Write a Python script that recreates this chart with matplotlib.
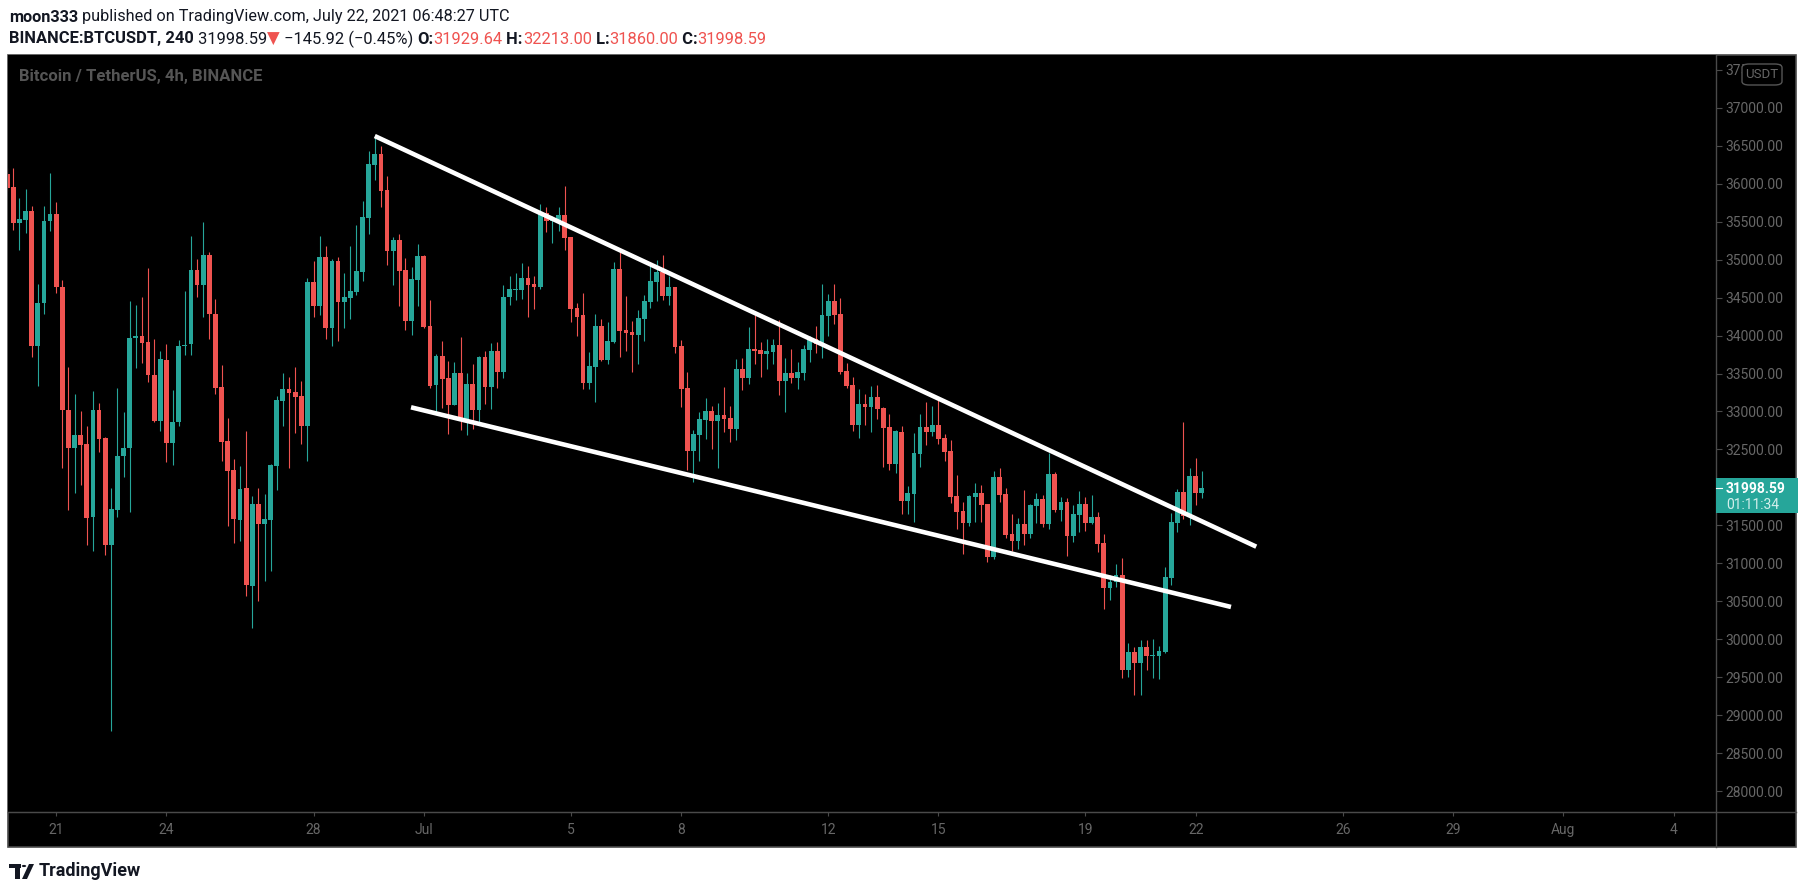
import numpy as np
import pandas as pd
import matplotlib
matplotlib.use("Agg")
import matplotlib.pyplot as plt
import matplotlib.dates as mdates
from matplotlib.patches import Rectangle, FancyBboxPatch, Polygon, Circle
from matplotlib.lines import Line2D

W, H = 1805, 894
UP = '#26a69a'
DOWN = '#ef5350'
TXT = '#676767'
EDGE = '#4a4a4a'
FONT = ['Roboto', 'DejaVu Sans']

# BINANCE:BTCUSDT 4h candles, first bar 2021-06-19 16:00 UTC
first_bar = '2021-06-19 16:00'
opens = [36121, 35957, 35487, 35521, 35640, 33866, 34426, 35506, 35600, 34644,
         33023, 32523, 32691, 32572, 31611, 33018, 32647, 31239, 31700, 32414,
         32518, 33965, 33995, 33915, 33484, 32880, 33678, 32587, 32860, 33856,
         33886, 34857, 34659, 35060, 34283, 33322, 32607, 32229, 31575, 31992,
         30706, 31782, 31523, 31575, 32286, 33142, 33296, 33256, 33208, 32813,
         34705, 34393, 35034, 34099, 34981, 34441, 34498, 34573, 34836, 35547,
         36245, 36390, 35916, 35117, 35258, 34863, 34191, 34731, 35047, 34126,
         33349, 33731, 33441, 33085, 33507, 32901, 33362, 33020, 33717, 33322,
         33796, 33520, 34508, 34600, 34600, 34758, 34679, 34639, 35613, 35508,
         35508, 35587, 35298, 34363, 34270, 33375, 33586, 34126, 33678, 33915,
         34876, 34073, 34047, 34007, 34218, 34442, 34705, 34837, 34521, 34639,
         33862, 33309, 32480, 32690, 32888, 33006, 32875, 32954, 32914, 32769,
         33560, 33441, 33823, 33810, 33757, 33783, 33875, 33402, 33507, 33441,
         33507, 33810, 33955, 33889, 34258, 34455, 34284, 33533, 33349, 32822,
         33099, 33059, 33191, 33046, 32796, 32309, 32730, 31822, 31914, 32441,
         32796, 32730, 32822, 32651, 32480, 31888, 31690, 31532, 31875, 31927,
         31782, 31084, 32138, 31914, 31387, 31295, 31519, 31387, 31756, 31848,
         31519, 32177, 31703, 31809, 31361, 31637, 31782, 31532, 31611, 31269,
         30676, 30755, 30847, 29597, 29834, 29689, 29900, 29781, 29781, 29834,
         30808, 31532, 31940, 31624, 32151, 31929.64]
highs = [36200, 36205, 35809, 35928, 35700, 34679, 35700, 36136, 35759, 34728,
         33583, 33232, 33004, 32805, 33271, 33113, 32662, 31993, 33306, 32994,
         34455, 34401, 34505, 34887, 33955, 33796, 33886, 33281, 33940, 34585,
         35308, 35006, 35501, 35095, 34481, 33612, 32914, 32374, 32282, 32743,
         31887, 31992, 31913, 32308, 33208, 33506, 33454, 33586, 33405, 34757,
         34981, 35310, 35179, 35008, 35034, 34823, 35179, 35455, 35771, 36429,
         36618, 36495, 36100, 35297, 35337, 35021, 34902, 35205, 35060, 34468,
         33757, 33928, 33665, 33652, 33981, 33507, 33625, 33731, 33796, 33902,
         33915, 34665, 34784, 34823, 34955, 34916, 34784, 35732, 35693, 35574,
         35693, 35969, 35298, 34428, 34560, 33783, 34284, 34218, 34178, 34968,
         35126, 34521, 34191, 34336, 34534, 34929, 34995, 35060, 34784, 34639,
         33941, 33520, 32756, 32993, 33178, 33072, 33112, 33322, 33072, 33691,
         33704, 34112, 34270, 33915, 33954, 33954, 34205, 33704, 33823, 33652,
         33875, 33994, 34126, 34679, 34547, 34679, 34495, 33639, 33454, 33296,
         33231, 33336, 33349, 33059, 32967, 32757, 32809, 32019, 32717, 32967,
         33125, 33073, 33191, 32704, 32625, 32164, 31809, 31901, 32059, 32032,
         31782, 32217, 32256, 31993, 31651, 31598, 31967, 31782, 31927, 31901,
         32454, 32204, 31875, 31861, 31769, 31954, 31875, 31901, 31677, 31387,
         30847, 30992, 31071, 29952, 29900, 29992, 29992, 30005, 29913, 30953,
         31664, 31980, 32862, 32256, 32388, 32213.00]
lows = [35900, 35392, 35120, 35353, 33717, 33341, 34287, 35382, 34560, 32255,
        31700, 31923, 32032, 31239, 31160, 32463, 31110, 28796, 31611, 32141,
        31675, 33579, 33638, 33390, 32865, 32746, 32339, 32290, 32810, 33742,
        33742, 34510, 34248, 33959, 33234, 32348, 31492, 31272, 31299, 30575,
        30153, 30509, 30772, 30904, 31966, 32813, 32260, 32721, 32572, 32352,
        34248, 34270, 33959, 33866, 33932, 34099, 34222, 34538, 34722, 35341,
        36048, 35692, 34928, 34665, 34389, 34073, 34007, 34393, 34095, 33314,
        32998, 33050, 32703, 33080, 32756, 32690, 32769, 32866, 33099, 33033,
        33309, 33441, 34402, 34468, 34481, 34244, 34349, 34613, 35363, 35219,
        35376, 35126, 34178, 33994, 33296, 33296, 33125, 33665, 33625, 33902,
        33718, 33796, 33520, 33625, 33928, 34363, 34455, 34468, 34402, 33770,
        33059, 32230, 32072, 32348, 32638, 32506, 32256, 32730, 32598, 32625,
        33283, 33362, 33625, 33454, 33560, 33625, 33217, 32993, 33375, 33296,
        33415, 33652, 33770, 33705, 33994, 34152, 33500, 33310, 32743, 32651,
        32822, 32730, 32901, 32269, 32230, 32190, 31651, 31651, 31545, 32269,
        32559, 32678, 32572, 32348, 31795, 31453, 31124, 31493, 31545, 31545,
        31019, 31058, 31809, 31334, 31163, 31190, 31243, 31334, 31532, 31480,
        31453, 31677, 31558, 31098, 31282, 31414, 31427, 31519, 31150, 30400,
        30518, 30689, 29491, 29504, 29267, 29267, 29597, 29491, 29478, 29820,
        30716, 31414, 31585, 31506, 31769, 31860.00]
closes = [35947, 35487, 35536, 35640, 33866, 34426, 35506, 35600, 34644, 33023,
          32523, 32691, 32562, 31601, 33018, 32642, 31239, 31710, 32414, 32518,
          33965, 33995, 33905, 33484, 32880, 33692, 32587, 32860, 33861, 33881,
          34862, 34659, 35060, 34288, 33313, 32602, 32220, 31588, 31979, 30719,
          31782, 31523, 31588, 32295, 33151, 33296, 33248, 33195, 32813, 34705,
          34393, 35034, 34099, 34981, 34441, 34507, 34586, 34850, 35560, 36258,
          36390, 35903, 35117, 35258, 34850, 34191, 34744, 35047, 34117, 33336,
          33731, 33428, 33085, 33507, 32901, 33362, 33020, 33717, 33322, 33796,
          33520, 34508, 34613, 34618, 34758, 34665, 34639, 35613, 35508, 35534,
          35587, 35284, 34349, 34244, 33375, 33599, 34126, 33678, 33928, 34876,
          34060, 34034, 34007, 34231, 34455, 34718, 34837, 34521, 34639, 33849,
          33296, 32480, 32704, 32901, 33006, 32875, 32954, 32901, 32769, 33560,
          33441, 33823, 33796, 33757, 33796, 33875, 33402, 33507, 33441, 33520,
          33823, 33955, 33889, 34271, 34455, 34271, 33520, 33336, 32822, 33099,
          33059, 33191, 33033, 32783, 32309, 32743, 31822, 31927, 32454, 32796,
          32730, 32822, 32638, 32467, 31874, 31677, 31532, 31888, 31927, 31769,
          31084, 32138, 31901, 31374, 31295, 31519, 31387, 31769, 31848, 31519,
          32177, 31703, 31809, 31361, 31651, 31782, 31532, 31611, 31256, 30676,
          30755, 30847, 29597, 29834, 29689, 29900, 29781, 29794, 29847, 30821,
          31545, 31940, 31624, 32151, 31927, 31998.59]

tick_dates = ['2021-06-21', '2021-06-24', '2021-06-28', '2021-07-01', '2021-07-05',
              '2021-07-08', '2021-07-12', '2021-07-15', '2021-07-19', '2021-07-22',
              '2021-07-26', '2021-07-29', '2021-08-01', '2021-08-04']
tick_labels = ['21', '24', '28', 'Jul', '5', '8', '12', '15', '19', '22',
               '26', '29', 'Aug', '4']
price_ticks = list(range(28000, 37501, 500))

upper_dates = ['2021-06-29 16:00', '2021-07-23 15:30']
upper_prices = [36627, 31220]
lower_dates = ['2021-06-30 15:40', '2021-07-22 23:00']
lower_prices = [33055, 30426]

last_price = 31998.59
countdown = '01:11:34'


def fx(px):
    return px / W


def fy(py):
    return 1 - py / H


fig = plt.figure(figsize=(W / 100, H / 100), dpi=100, facecolor='white')

# dark chart panel
fig.add_artist(Rectangle((fx(8), fy(847)), fx(1796) - fx(8), fy(55) - fy(847),
                         transform=fig.transFigure, facecolor='black',
                         edgecolor=EDGE, linewidth=1.2, zorder=0))

ax = fig.add_axes([fx(8), fy(812), fx(1716) - fx(8), fy(55) - fy(812)])
ax.set_facecolor('black')
for s in ['top', 'left', 'right']:
    ax.spines[s].set_visible(False)
ax.spines['bottom'].set_color(EDGE)

times = pd.date_range(first_bar, periods=len(opens), freq='4h')
t = mdates.date2num(times)
o = np.array(opens)
hi = np.array(highs)
lo = np.array(lows)
c = np.array(closes)
cols = np.where(c >= o, UP, DOWN)

ax.vlines(t, lo, hi, colors=cols, linewidth=0.8, zorder=2)
body = np.maximum(np.abs(c - o), 12)
ax.bar(t, body, bottom=np.minimum(o, c), width=0.13, color=cols, linewidth=0, zorder=3)

ax.plot(mdates.date2num(pd.to_datetime(upper_dates)), upper_prices, color='white',
        linewidth=3.3, solid_capstyle='butt', zorder=4)
ax.plot(mdates.date2num(pd.to_datetime(lower_dates)), lower_prices, color='white',
        linewidth=3.3, solid_capstyle='butt', zorder=4)

ax.set_xlim(mdates.date2num(pd.Timestamp('2021-06-19 16:32')),
            mdates.date2num(pd.Timestamp('2021-08-05 03:40')))
ax.set_ylim(27726, 37694)

ax.set_xticks(mdates.date2num(pd.to_datetime(tick_dates)))
ax.set_xticklabels(tick_labels)
ax.tick_params(axis='x', colors=EDGE, labelcolor=TXT, length=3, width=0.8,
               pad=5, labelsize=10)
ax.yaxis.tick_right()
ax.set_yticks(price_ticks)
ax.set_yticklabels([f'{v:.2f}' for v in price_ticks])
ax.tick_params(axis='y', colors=EDGE, labelcolor=TXT, length=4, width=0.8,
               pad=2.5, labelsize=10)
for lab in ax.get_xticklabels() + ax.get_yticklabels():
    lab.set_family(FONT)

# separators of the price / time scales
fig.add_artist(Line2D([fx(1716), fx(1716)], [fy(55), fy(847)], color=EDGE, linewidth=1.0))
fig.add_artist(Line2D([fx(8), fx(1796)], [fy(812), fy(812)], color=EDGE, linewidth=1.0))

# symbol title inside the chart
fig.text(fx(19), fy(77), 'Bitcoin / TetherUS, 4h, BINANCE', color='#555555',
         fontsize=12, fontweight='bold', family=FONT, va='center', ha='left')

# currency box
fig.add_artist(FancyBboxPatch((fx(1742), fy(85)), fx(1782) - fx(1742), fy(64) - fy(85),
                              boxstyle='round,pad=0,rounding_size=0.004',
                              transform=fig.transFigure, facecolor='black',
                              edgecolor='#555555', linewidth=1.0, zorder=5))
fig.text(fx(1762), fy(75), 'USDT', color=TXT, fontsize=9.5, family=FONT,
         va='center', ha='center', zorder=6)

# last price label
fig.canvas.draw()
py = ax.transData.transform((0, last_price))[1]
ly = H - py
fig.add_artist(Rectangle((fx(1716), fy(ly + 25)), fx(1798) - fx(1716), fy(ly - 10) - fy(ly + 25),
                         transform=fig.transFigure, facecolor=UP, edgecolor='none', zorder=5))
fig.add_artist(Line2D([fx(1716), fx(1722)], [fy(ly), fy(ly)], color='white', linewidth=0.8, zorder=6))
fig.text(fx(1726), fy(ly + 1), f'{last_price:.2f}', color='white', fontsize=10,
         fontweight='bold', family=FONT, va='center', ha='left', zorder=6)
fig.text(fx(1726), fy(ly + 17), countdown, color='#d4efec', fontsize=10,
         family=FONT, va='center', ha='left', zorder=6)


# header rows drawn piece by piece
def put_row(parts, x, y, size):
    r = fig.canvas.get_renderer()
    for s, color, weight in parts:
        tx = fig.text(fx(x), fy(y), s, color=color, fontsize=size, fontweight=weight,
                      family=FONT, va='center', ha='left')
        x += tx.get_window_extent(renderer=r).width


put_row([('moon333', '#131722', 'bold'),
         (' published on TradingView.com, July 22, 2021 06:48:27 UTC', '#131722', 'normal')],
        9, 17, 11.7)
put_row([('BINANCE:BTCUSDT, 240', '#131722', 'bold'),
         (' 31998.59', '#131722', 'normal'),
         ('▼', DOWN, 'normal'),
         (' −145.92 (−0.45%) ', '#131722', 'normal'),
         ('O:', '#131722', 'bold'), ('31929.64', DOWN, 'normal'),
         (' H:', '#131722', 'bold'), ('32213.00', DOWN, 'normal'),
         (' L:', '#131722', 'bold'), ('31860.00', DOWN, 'normal'),
         (' C:', '#131722', 'bold'), ('31998.59', DOWN, 'normal')],
        9, 39, 11.9)

# TradingView logo
logo = '#131722'
fig.add_artist(Rectangle((fx(9), fy(868)), fx(21) - fx(9), fy(864) - fy(868),
                         transform=fig.transFigure, facecolor=logo, edgecolor='none'))
fig.add_artist(Rectangle((fx(15), fy(879)), fx(20) - fx(15), fy(864) - fy(879),
                         transform=fig.transFigure, facecolor=logo, edgecolor='none'))
fig.add_artist(Circle((fx(24), fy(866)), 2.2 / W, transform=fig.transFigure,
                      facecolor=logo, edgecolor='none'))
fig.add_artist(Polygon([(fx(22), fy(879)), (fx(27), fy(879)), (fx(34), fy(864)), (fx(29), fy(864))],
                       closed=True, transform=fig.transFigure, facecolor=logo, edgecolor='none'))
fig.text(fx(39), fy(871), 'TradingView', color=logo, fontsize=13, fontweight='bold',
         family=FONT, va='center', ha='left')

fig.savefig('out.png', dpi=100, facecolor='white')
